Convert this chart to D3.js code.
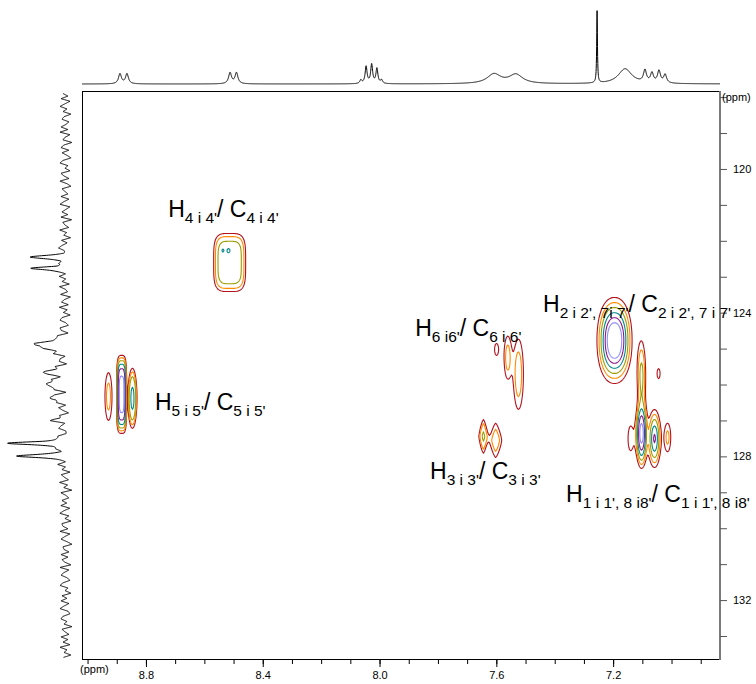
<!DOCTYPE html>
<html>
<head>
<meta charset="utf-8">
<script src="https://cdn.jsdelivr.net/npm/d3@7/dist/d3.min.js"></script>
<style>
  html, body { margin: 0; padding: 0; background: #fff; }
  svg { display: block; }
  text { font-family: "Liberation Sans", Arial, Helvetica, sans-serif; fill: #000; }
</style>
</head>
<body>
<svg id="chart" width="756" height="684"></svg>
<script>
// ---------- axis ranges and ticks (ppm) ----------
const protonRange = [9.019, 6.834];
const carbonRange = [117.83, 133.64];
const protonTicks = [9.0, 8.9, 8.8, 8.7, 8.6, 8.5, 8.4, 8.3, 8.2, 8.1, 8.0, 7.9, 7.8, 7.7, 7.6, 7.5, 7.4, 7.3, 7.2, 7.1, 7.0, 6.9];
const protonMajorTicks = [8.8, 8.4, 8.0, 7.6, 7.2];
const protonTickLabels = ["8.8", "8.4", "8.0", "7.6", "7.2"];
const carbonTicks = [118, 119, 120, 121, 122, 123, 124, 125, 126, 127, 128, 129, 130, 131, 132, 133];
const carbonMajorTicks = [120, 124, 128, 132];
const carbonTickLabels = ["120", "124", "128", "132"];

// ---------- 1H projection: line shifts (ppm), intensities, half-widths (ppm) ----------
const hShift     = [8.889, 8.865, 8.512, 8.490, 8.064, 8.046, 8.027, 8.009, 7.993, 7.608, 7.533, 7.255, 7.159, 7.091, 7.067, 7.043, 7.022];
const hIntensity = [10, 10, 11, 11, 3.5, 17, 19, 15, 3.5, 9.5, 9, 72, 15, 12, 9.5, 12, 8.5];
const hWidth     = [0.006, 0.006, 0.006, 0.006, 0.004, 0.004, 0.004, 0.004, 0.004, 0.028, 0.028, 0.0015, 0.028, 0.006, 0.006, 0.006, 0.006];

// ---------- 13C projection: line shifts (ppm), intensities, half-widths (ppm) ----------
const cShift     = [122.45, 122.76, 124.90, 125.65, 125.99, 126.38, 126.99, 127.63, 127.99];
const cIntensity = [31, 32, 30, 19, 21, 15, 9, 54, 44];
const cWidth     = [0.05, 0.05, 0.12, 0.08, 0.08, 0.08, 0.08, 0.05, 0.05];
// baseline wiggle of the 13C trace, evenly spaced from cNoiseRange[0] to cNoiseRange[1]
const cNoiseRange = [117.9, 133.6];
const cNoise = [
  3, -2, 5, -4, 1, 6, -1, 3, -5, 2, 4, -3, 0, 5, -2, 6, -4, 1, 3, -6,
  2, 5, -3, 4, -1, -5, 3, 6, -2, 1, -4, 5, 2, -3, 6, -1, -5, 4, 1, -2,
  5, -3, 2, 6, -4, 0, 4, -2, 5, -6, 3, 1, -3, 6, -1, 2, -5, 4, -2, 3,
  6, -1, -4, 3, 5, -2, 1, -6, 4, 2, -3, 5, -1, 3, -4, 6, 0, -2, 5, -5,
  1, 4, -3, 6, -2, 2, -5, 3, 5, -1, -4, 4, 2, -6, 3, 1, -2, 5, -3, 4,
  -1, 6, -4, 2, 3, -5, 5, -2, 1, 4, -3, 6, -1, -4, 2, 5, -6, 3, 0, -2,
  4, -3, 5, 1, -5, 3, -1, 6, -4, 2, 5, -2, -3, 4, 1, -5, 6, -1, 3, -4,
  2, 5, -2, -4, 6, -1, 3, -5, 4, 1, -3, 6, -2, 2, -6, 5, 0, -3, 4, -1,
  5, -4, 2, 6, -3, 1, -5, 4, 3, -2, 6, -4, 1, 5, -1, -6, 3, 2, -3, 5,
  -2, 4, 1, -5, 6, -3, 2, 5, -1, -4, 3, 6, -2, 1, -5, 4, -1, 5, -3, 2,
  6, -2, -4, 3, 5, -1, 2, -6, 4, 1, -3, 5, -2, 3, -4, 6, -1, 2, -5, 3
];

// ---------- HSQC cross peaks ----------
// proton shift, carbon shift, intensity, proton width, carbon width,
// contour shape exponent (1 diamond, 2 ellipse, >2 box) and profile exponent
const xpProton   = [8.515, 8.539, 8.519, 8.885, 8.930, 8.848, 7.601, 7.563, 7.526, 7.646, 7.604, 7.197, 7.1045, 7.1045, 7.060, 7.142, 7.015, 7.046];
const xpCarbon   = [122.59, 122.25, 122.25, 126.26, 126.32, 126.37, 125.01, 125.23, 125.70, 127.43, 127.54, 124.76, 127.35, 125.73, 127.49, 127.49, 127.46, 125.68];
const xpAmp      = [3.6, 0.9, 0.9, 13, 2.0, 4.3, 1.25, 2.0, 2.2, 2.6, 1.9, 50, 14, 2.8, 7, 1.3, 1.8, 1.15];
const xpWidthH   = [0.0514, 0.0068, 0.0068, 0.0125, 0.0144, 0.0137, 0.0144, 0.0144, 0.0192, 0.0158, 0.024, 0.01534, 0.0113, 0.0137, 0.0144, 0.0168, 0.0137, 0.0137];
const xpWidthC   = [0.760, 0.083, 0.083, 0.793, 0.80, 0.738, 0.353, 0.70, 1.10, 0.481, 0.557, 0.306, 0.529, 0.891, 0.518, 0.651, 0.509, 0.362];
const xpShapeP   = [4, 2, 2, 4, 2, 2, 2, 2, 2, 1.3, 1.3, 2.2, 2, 2, 2, 2, 2, 2];
const xpShapeQ   = [4, 2, 2, 3, 2, 3, 2, 2, 2, 2.5, 3, 1, 1.6, 2, 1.5, 2, 2, 2];

const contourLevels = [1, 1.6, 2.5, 4, 6.3, 10];
const contourColors = ["#b3121b", "#ff8a00", "#9c9c00", "#00888a", "#8c1a8c", "#8c8cff"];

// ---------- assignment labels ----------
const labelSubH = ["4 i 4'", "5 i 5'", "6 i6'", "3 i 3'", "2 i 2', 7i 7'", "1 i 1', 8 i8'"];
const labelSubC = ["4 i 4'", "5 i 5'", "6 i 6'", "3 i 3'", "2 i 2', 7 i 7'", "1 i 1', 8 i8'"];
const labelAtH  = [8.724, 8.769, 7.878, 7.827, 7.440, 7.361];
const labelAtC  = [121.33, 126.70, 124.64, 128.62, 123.97, 129.26];

// ---------- layout ----------
const svg = d3.select("#chart");
const frame = { left: 82, right: 720, top: 91, bottom: 659 };
const x = d3.scaleLinear().domain(protonRange).range([frame.left, frame.right]);
const y = d3.scaleLinear().domain(carbonRange).range([frame.top, frame.bottom]);
const topScale = d3.scaleLinear().domain([0, 72]).range([84, 12]);
const leftScale = d3.scaleLinear().domain([0, 58]).range([66, 8]);

const lorentz = (d, c, h, w) => h * w * w / ((d - c) * (d - c) + w * w);

// ---------- 1H projection trace ----------
const hPoints = d3.range(protonRange[0], protonRange[1] - 0.0005, -0.0005).map(d => {
  let s = 0;
  for (let k = 0; k < hShift.length; k++) s += lorentz(d, hShift[k], hIntensity[k], hWidth[k]);
  return [d, s];
});
svg.append("path")
  .attr("d", d3.line().x(p => x(p[0])).y(p => topScale(p[1]))(hPoints))
  .attr("fill", "none").attr("stroke", "#000").attr("stroke-width", 1);

// ---------- 13C projection trace ----------
const noiseScale = d3.scaleLinear()
  .domain([cNoiseRange[0], cNoiseRange[1]])
  .range([0, cNoise.length - 1]);
const baselineAt = c => {
  const t = noiseScale(c), i = Math.max(0, Math.min(cNoise.length - 2, Math.floor(t))), f = t - i;
  return cNoise[i] * (1 - f) + cNoise[i + 1] * f;
};
const cPoints = d3.range(cNoiseRange[0], cNoiseRange[1], 0.005).map(c => {
  let s = baselineAt(c);
  for (let k = 0; k < cShift.length; k++) s += lorentz(c, cShift[k], cIntensity[k], cWidth[k]);
  return [c, s];
});
svg.append("path")
  .attr("d", d3.line().x(p => leftScale(p[1])).y(p => y(p[0]))(cPoints))
  .attr("fill", "none").attr("stroke", "#000").attr("stroke-width", 1);

// ---------- 2D contour map ----------
const step = 1;
const nx = Math.round((frame.right - frame.left) / step) + 1;
const ny = Math.round((frame.bottom - frame.top) / step) + 1;
const grid = new Float64Array(nx * ny);
const colH = Array.from({ length: nx }, (_, i) => x.invert(frame.left + i * step));
const rowC = Array.from({ length: ny }, (_, j) => y.invert(frame.top + j * step));
for (let k = 0; k < xpProton.length; k++) {
  const wH = xpWidthH[k], wC = xpWidthC[k], p = xpShapeP[k], q = xpShapeQ[k], a = xpAmp[k];
  for (let j = 0; j < ny; j++) {
    const v = Math.abs((rowC[j] - xpCarbon[k]) / wC);
    if (v > 8) continue;
    const vp = Math.pow(v, p);
    for (let i = 0; i < nx; i++) {
      const u = Math.abs((colH[i] - xpProton[k]) / wH);
      if (u > 8) continue;
      const r = Math.pow(Math.pow(u, p) + vp, q / p);
      grid[j * nx + i] += a * Math.exp(-r);
    }
  }
}
const contours = d3.contours().size([nx, ny]).thresholds(contourLevels)(grid);
const toScreen = d3.geoPath(d3.geoIdentity().scale(step).translate([frame.left, frame.top]));
svg.append("g").selectAll("path").data(contours).join("path")
  .attr("d", toScreen)
  .attr("fill", "none")
  .attr("stroke", (d, i) => contourColors[i])
  .attr("stroke-width", 1.1)
  .attr("stroke-linejoin", "round");

// ---------- frame ----------
svg.append("rect")
  .attr("x", frame.left + 0.5).attr("y", frame.top + 0.5)
  .attr("width", frame.right - frame.left - 1).attr("height", frame.bottom - frame.top)
  .attr("fill", "none").attr("stroke", "#000").attr("stroke-width", 1);
svg.append("line")
  .attr("x1", frame.right).attr("x2", frame.right)
  .attr("y1", frame.top).attr("y2", frame.bottom + 1)
  .attr("stroke", "#7a7a7a").attr("stroke-width", 2);

// ---------- bottom axis (1H) ----------
const bottomMinor = d3.axisBottom(x).tickValues(protonTicks).tickSize(4).tickFormat("");
const bottomMajor = d3.axisBottom(x).tickValues(protonMajorTicks).tickSize(7).tickPadding(4)
  .tickFormat((d, i) => protonTickLabels[i]);
[bottomMinor, bottomMajor].forEach(ax => {
  const g = svg.append("g").attr("transform", `translate(0,${frame.bottom + 1})`).call(ax);
  g.select(".domain").remove();
  g.selectAll("line").attr("stroke", "#000");
  g.selectAll("text").attr("font-size", 11).attr("font-family", "Liberation Sans, Arial, sans-serif");
});
svg.append("text").attr("x", frame.left - 2).attr("y", 673).attr("font-size", 11).text("(ppm)");

// ---------- right axis (13C) ----------
const rightAxis = d3.axisRight(y).tickValues(carbonTicks).tickSize(7).tickPadding(6)
  .tickFormat(d => { const i = carbonMajorTicks.indexOf(d); return i >= 0 ? carbonTickLabels[i] : ""; });
const gr = svg.append("g").attr("transform", `translate(${frame.right},0)`).call(rightAxis);
gr.select(".domain").remove();
gr.selectAll("line").attr("stroke", "#555");
gr.selectAll("text").attr("font-size", 11).attr("font-family", "Liberation Sans, Arial, sans-serif");
svg.append("text").attr("x", frame.right + 2).attr("y", 101).attr("font-size", 11).text("(ppm)");

// ---------- assignment labels ----------
labelSubH.forEach((sub, i) => {
  const t = svg.append("text").attr("x", x(labelAtH[i])).attr("y", y(labelAtC[i])).attr("font-size", 23);
  t.append("tspan").text("H");
  t.append("tspan").attr("font-size", 15.5).attr("dy", 6).text(sub);
  t.append("tspan").attr("dy", -6).text("/ C");
  t.append("tspan").attr("font-size", 15.5).attr("dy", 6).text(labelSubC[i]);
});
</script>
</body>
</html>
